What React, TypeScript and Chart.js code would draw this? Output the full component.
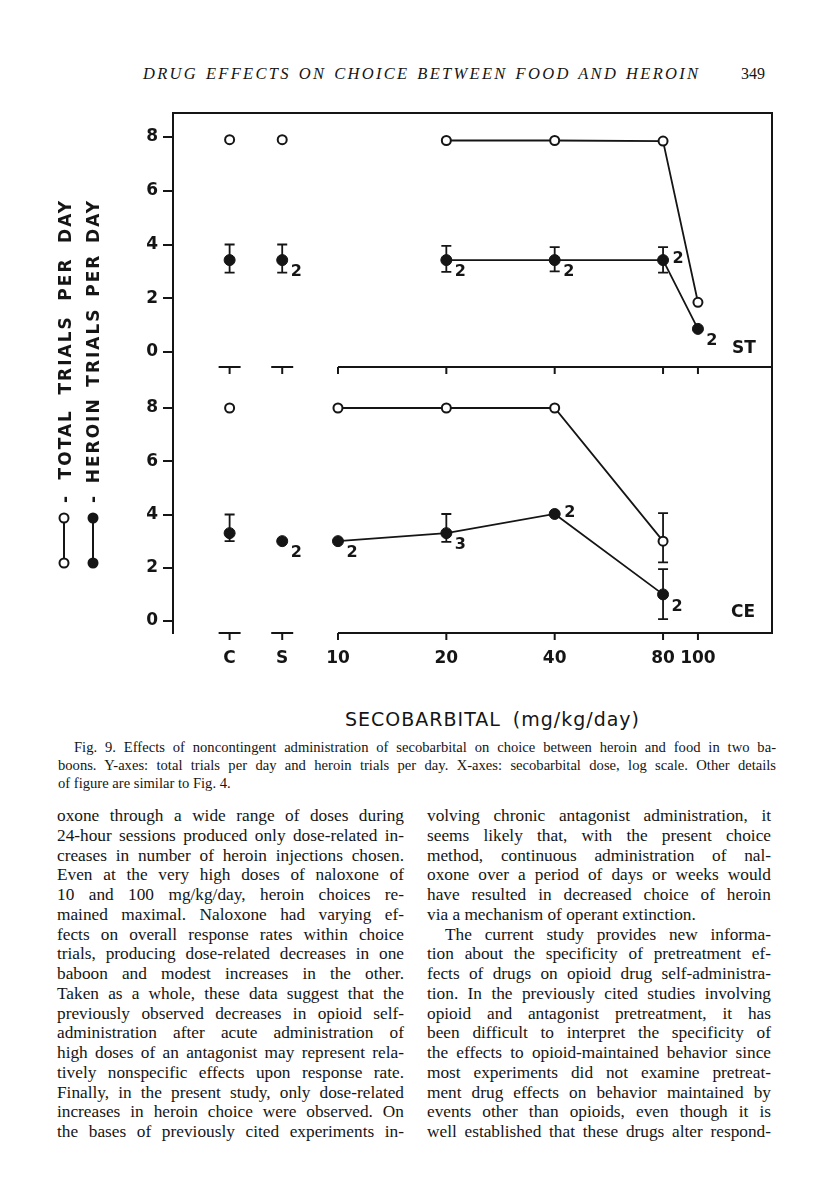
import React, { useEffect, useRef } from 'react';
import { Chart, registerables } from 'chart.js';

Chart.register(...registerables);

// ---------- data ----------
const xTickValues = [5, 7, 10, 20, 40, 80, 100];
const xTickLabels = ['C', 'S', '10', '20', '40', '80', '100'];
const controlX = [5, 7]; // C, S
const doses = [10, 20, 40, 80, 100];
const yTickValues = [0, 2, 4, 6, 8];

// ST panel (top)
const stTotalControl = [7.9, 7.9];
const stHeroinControl = [3.42, 3.42];
const stHeroinControlHi = [4.0, 4.0];
const stHeroinControlLo = [2.95, 2.95];
const stHeroinControlN = ['', '2'];
const stTotal = [null, 7.87, 7.87, 7.85, 1.85];
const stHeroin = [null, 3.42, 3.42, 3.42, 0.86];
const stHeroinHi = [null, 3.95, 3.9, 3.9, null];
const stHeroinLo = [null, 2.98, 3.0, 2.95, null];
const stHeroinN = ['', '2', '2', '2', '2'];
const stHeroinNPlace = ['below', 'below', 'below', 'side', 'below'];

// CE panel (bottom)
const ceTotalControl = [8.0, null];
const ceHeroinControl = [3.3, 3.0];
const ceHeroinControlHi = [4.0, null];
const ceHeroinControlLo = [3.0, null];
const ceHeroinControlN = ['', '2'];
const ceTotal = [8.0, 8.0, 8.0, 3.0, null];
const ceTotalHi = [null, null, null, 4.05, null];
const ceTotalLo = [null, null, null, 2.2, null];
const ceHeroin = [3.0, 3.3, 4.02, 1.0, null];
const ceHeroinHi = [null, 4.02, null, 1.95, null];
const ceHeroinLo = [null, 2.97, null, 0.07, null];
const ceHeroinN = ['2', '3', '2', '2', ''];
const ceHeroinNPlace = ['below', 'below', 'side', 'below', 'below'];

const captionLines = [
  'Fig. 9. Effects of noncontingent administration of secobarbital on choice between heroin and food in two ba-',
  'boons. Y-axes: total trials per day and heroin trials per day. X-axes: secobarbital dose, log scale. Other details',
  'of figure are similar to Fig. 4.',
];

const leftColumn = [
  'oxone through a wide range of doses during',
  '24-hour sessions produced only dose-related in-',
  'creases in number of heroin injections chosen.',
  'Even at the very high doses of naloxone of',
  '10 and 100 mg/kg/day, heroin choices re-',
  'mained maximal. Naloxone had varying ef-',
  'fects on overall response rates within choice',
  'trials, producing dose-related decreases in one',
  'baboon and modest increases in the other.',
  'Taken as a whole, these data suggest that the',
  'previously observed decreases in opioid self-',
  'administration after acute administration of',
  'high doses of an antagonist may represent rela-',
  'tively nonspecific effects upon response rate.',
  'Finally, in the present study, only dose-related',
  'increases in heroin choice were observed. On',
  'the bases of previously cited experiments in-',
];

const rightColumn = [
  'volving chronic antagonist administration, it',
  'seems likely that, with the present choice',
  'method, continuous administration of nal-',
  'oxone over a period of days or weeks would',
  'have resulted in decreased choice of heroin',
  'via a mechanism of operant extinction.',
  'The current study provides new informa-',
  'tion about the specificity of pretreatment ef-',
  'fects of drugs on opioid drug self-administra-',
  'tion. In the previously cited studies involving',
  'opioid and antagonist pretreatment, it has',
  'been difficult to interpret the specificity of',
  'the effects to opioid-maintained behavior since',
  'most experiments did not examine pretreat-',
  'ment drug effects on behavior maintained by',
  'events other than opioids, even though it is',
  'well established that these drugs alter respond-',
];
const rightParagraphEnds = [5]; // line index that ends a paragraph
const rightParagraphStarts = [6];

// ---------- styles ----------
const INK = '#151515';
const SANS = '"DejaVu Sans", "Liberation Sans", sans-serif';
const SERIF = '"Liberation Serif", "Times New Roman", serif';
const PLACE: Record<string, { dx: number; dy: number }> = {
  below: { dx: 14, dy: 12 },
  side: { dx: 15, dy: -1 },
};

const pts = (xs: number[], ys: (number | null)[]) => xs.map((x, i) => ({ x, y: ys[i] }));

const openPt = {
  pointRadius: 4.5,
  pointBorderWidth: 2,
  pointBackgroundColor: '#fff',
  pointBorderColor: INK,
};
const filledPt = {
  pointRadius: 5.5,
  pointBorderWidth: 1,
  pointBackgroundColor: INK,
  pointBorderColor: INK,
};
const lineStyle = { borderColor: INK, borderWidth: 1.8, tension: 0, fill: false };

const decorPlugin = {
  id: 'figureDecor',
  beforeDatasetsDraw(chart: any) {
    const ctx = chart.ctx;
    ctx.save();
    ctx.strokeStyle = INK;
    ctx.lineWidth = 1.8;
    chart.data.datasets.forEach((ds: any, i: number) => {
      if (!ds.errHi) return;
      const meta = chart.getDatasetMeta(i);
      const sc = chart.scales[ds.yAxisID];
      ds.errHi.forEach((hi: number | null, j: number) => {
        const lo = ds.errLo[j];
        if (hi == null || lo == null) return;
        const el = meta.data[j];
        if (!el) return;
        const x = el.x;
        const yh = sc.getPixelForValue(hi);
        const yl = sc.getPixelForValue(lo);
        ctx.beginPath();
        ctx.moveTo(x, yh);
        ctx.lineTo(x, yl);
        ctx.moveTo(x - 5, yh);
        ctx.lineTo(x + 5, yh);
        ctx.moveTo(x - 5, yl);
        ctx.lineTo(x + 5, yl);
        ctx.stroke();
      });
    });
    ctx.restore();
  },
  afterDatasetsDraw(chart: any) {
    const ctx = chart.ctx;
    const { left, right, top, bottom } = chart.chartArea;
    const xs = chart.scales.x;
    const yt = chart.scales.yTop;
    const yb = chart.scales.yBot;
    ctx.save();
    ctx.strokeStyle = INK;
    ctx.lineWidth = 2;
    ctx.lineCap = 'square';
    const line = (x1: number, y1: number, x2: number, y2: number) => {
      ctx.beginPath();
      ctx.moveTo(x1, y1);
      ctx.lineTo(x2, y2);
      ctx.stroke();
    };
    line(left, top, right, top);
    line(right, top, right, bottom);
    ctx.lineCap = 'butt';
    for (const yPix of [yt.bottom, yb.bottom]) {
      const x10 = xs.getPixelForValue(doses[0]);
      line(x10, yPix, right, yPix);
      for (const d of doses) {
        const px = xs.getPixelForValue(d);
        line(px, yPix, px, yPix + 7);
      }
      for (const c of controlX) {
        const px = xs.getPixelForValue(c);
        line(px - 11, yPix, px + 11, yPix);
        line(px, yPix, px, yPix + 7);
      }
    }
    // n labels
    ctx.fillStyle = INK;
    ctx.font = `bold 16px ${SANS}`;
    ctx.textAlign = 'center';
    ctx.textBaseline = 'middle';
    chart.data.datasets.forEach((ds: any, i: number) => {
      if (!ds.nLabels) return;
      const meta = chart.getDatasetMeta(i);
      ds.nLabels.forEach((t: string, j: number) => {
        if (!t) return;
        const el = meta.data[j];
        if (!el || el.skip) return;
        const p = PLACE[(ds.nPlace && ds.nPlace[j]) || 'below'];
        ctx.fillText(t, el.x + p.dx, el.y + p.dy);
      });
    });
    // panel labels
    ctx.font = `bold 17px ${SANS}`;
    ctx.fillText('ST', right - 28, yt.bottom - 18);
    ctx.fillText('CE', right - 29, yb.bottom - 20);
    // legend symbols
    const lx1 = left - 109;
    const lx2 = left - 80;
    const ly1 = bottom - 115;
    const ly2 = bottom - 70;
    ctx.lineWidth = 2;
    line(lx1, ly1, lx1, ly2);
    line(lx2, ly1, lx2, ly2);
    for (const y of [ly1, ly2]) {
      ctx.beginPath();
      ctx.arc(lx1, y, 4.5, 0, Math.PI * 2);
      ctx.fillStyle = '#fff';
      ctx.fill();
      ctx.stroke();
      ctx.beginPath();
      ctx.arc(lx2, y, 5.5, 0, Math.PI * 2);
      ctx.fillStyle = INK;
      ctx.fill();
    }
    ctx.restore();
  },
};

function yAxis(min: number, max: number, stackWeight: number, weight: number) {
  return {
    type: 'linear',
    position: 'left',
    stack: 'panels',
    stackWeight,
    weight,
    min,
    max,
    bounds: 'data',
    afterBuildTicks: (s: any) => {
      s.ticks = yTickValues.map((v) => ({ value: v }));
    },
    afterFit: (s: any) => {
      s.width = 40;
    },
    ticks: { padding: 5, color: INK, font: { family: SANS, size: 17, weight: 'bold' } },
    grid: {
      drawOnChartArea: false,
      drawTicks: true,
      tickLength: 10,
      tickWidth: 2,
      tickColor: INK,
      color: INK,
      lineWidth: 2,
    },
    border: { display: true, color: INK, width: 2 },
  };
}

function FigureChart() {
  const ref = useRef<HTMLCanvasElement | null>(null);
  useEffect(() => {
    if (!ref.current) return;
    const chart = new Chart(ref.current, {
      type: 'line',
      data: {
        datasets: [
          { label: 'ST total', data: pts(doses, stTotal), yAxisID: 'yTop', ...lineStyle, ...openPt } as any,
          {
            label: 'ST heroin',
            data: pts(doses, stHeroin),
            yAxisID: 'yTop',
            ...lineStyle,
            ...filledPt,
            errHi: stHeroinHi,
            errLo: stHeroinLo,
            nLabels: stHeroinN,
            nPlace: stHeroinNPlace,
          } as any,
          { label: 'ST total control', data: pts(controlX, stTotalControl), yAxisID: 'yTop', showLine: false, ...openPt } as any,
          {
            label: 'ST heroin control',
            data: pts(controlX, stHeroinControl),
            yAxisID: 'yTop',
            showLine: false,
            ...filledPt,
            errHi: stHeroinControlHi,
            errLo: stHeroinControlLo,
            nLabels: stHeroinControlN,
          } as any,
          {
            label: 'CE total',
            data: pts(doses, ceTotal),
            yAxisID: 'yBot',
            ...lineStyle,
            ...openPt,
            errHi: ceTotalHi,
            errLo: ceTotalLo,
          } as any,
          {
            label: 'CE heroin',
            data: pts(doses, ceHeroin),
            yAxisID: 'yBot',
            ...lineStyle,
            ...filledPt,
            errHi: ceHeroinHi,
            errLo: ceHeroinLo,
            nLabels: ceHeroinN,
            nPlace: ceHeroinNPlace,
          } as any,
          { label: 'CE total control', data: pts(controlX, ceTotalControl), yAxisID: 'yBot', showLine: false, ...openPt } as any,
          {
            label: 'CE heroin control',
            data: pts(controlX, ceHeroinControl),
            yAxisID: 'yBot',
            showLine: false,
            ...filledPt,
            errHi: ceHeroinControlHi,
            errLo: ceHeroinControlLo,
            nLabels: ceHeroinControlN,
          } as any,
        ],
      },
      options: {
        responsive: false,
        animation: false,
        devicePixelRatio: 1,
        layout: { autoPadding: false, padding: { left: 133, right: 44, top: 18, bottom: 17 } },
        plugins: { legend: { display: false }, tooltip: { enabled: false }, title: { display: false } },
        scales: {
          x: {
            type: 'logarithmic',
            position: 'bottom',
            min: 3.481,
            max: 160.6,
            bounds: 'data',
            afterBuildTicks: (s: any) => {
              s.ticks = xTickValues.map((v) => ({ value: v }));
            },
            afterFit: (s: any) => {
              s.height = 40;
            },
            ticks: {
              autoSkip: false,
              maxRotation: 0,
              minRotation: 0,
              padding: 15,
              color: INK,
              font: { family: SANS, size: 17, weight: 'bold' },
              callback: (v: any) => {
                const i = xTickValues.indexOf(Number(v));
                return i >= 0 ? xTickLabels[i] : '';
              },
            },
            grid: { display: false, drawTicks: false },
            border: { display: false },
          },
          yTop: yAxis(-0.558, 8.893, 254, 1),
          yBot: yAxis(-0.45, 9.54, 266, 0),
        } as any,
      },
      plugins: [decorPlugin],
    } as any);
    return () => chart.destroy();
  }, []);
  return (
    <canvas
      ref={ref}
      width={816}
      height={595}
      style={{ position: 'absolute', left: 0, top: 95, width: 816, height: 595 }}
    />
  );
}

const justLine: React.CSSProperties = {
  whiteSpace: 'nowrap',
  textAlign: 'justify',
  textAlignLast: 'justify' as any,
};

export default function App() {
  return (
    <div
      style={{
        position: 'absolute',
        left: 0,
        top: 0,
        width: 816,
        height: 1200,
        background: '#fff',
        color: INK,
        fontFamily: SERIF,
        overflow: 'hidden',
      }}
    >
      <div
        style={{
          position: 'absolute',
          left: 143,
          top: 64,
          fontStyle: 'italic',
          fontSize: 16.5,
          lineHeight: '20px',
          letterSpacing: 2.3,
          wordSpacing: 1.5,
          whiteSpace: 'nowrap',
        }}
      >
        DRUG EFFECTS ON CHOICE BETWEEN FOOD AND HEROIN
      </div>
      <div style={{ position: 'absolute', left: 741, top: 64, fontSize: 16, lineHeight: '20px' }}>349</div>

      <FigureChart />

      {/* rotated legend texts */}
      {['- TOTAL TRIALS PER DAY', '- HEROIN TRIALS PER DAY'].map((t, i) => (
        <div
          key={t}
          style={{
            position: 'absolute',
            left: (i === 0 ? 65 : 93) - 152,
            top: 351 - 12,
            width: 304,
            height: 24,
            lineHeight: '24px',
            fontFamily: SANS,
            fontWeight: 'bold',
            fontSize: 17,
            letterSpacing: 2,
            transform: 'rotate(-90deg)',
            transformOrigin: '50% 50%',
            ...justLine,
          }}
        >
          {t}
        </div>
      ))}

      <div
        style={{
          position: 'absolute',
          left: 345,
          top: 707,
          width: 295,
          fontFamily: SANS,
          fontSize: 19,
          lineHeight: '24px',
          letterSpacing: 1,
          ...justLine,
        }}
      >
        SECOBARBITAL (mg/kg/day)
      </div>

      <div style={{ position: 'absolute', left: 58, top: 738, width: 718, fontSize: 14.6, lineHeight: '18px' }}>
        {captionLines.map((l, i) => (
          <div
            key={i}
            style={
              i < captionLines.length - 1
                ? { ...justLine, paddingLeft: i === 0 ? 16 : 0 }
                : { whiteSpace: 'nowrap' }
            }
          >
            {l}
          </div>
        ))}
      </div>

      <div style={{ position: 'absolute', left: 57, top: 806, width: 347, fontSize: 17.3, lineHeight: '19.75px' }}>
        {leftColumn.map((l, i) => (
          <div key={i} style={justLine}>
            {l}
          </div>
        ))}
      </div>
      <div style={{ position: 'absolute', left: 427, top: 806, width: 344, fontSize: 17.3, lineHeight: '19.75px' }}>
        {rightColumn.map((l, i) => (
          <div
            key={i}
            style={
              rightParagraphEnds.includes(i)
                ? { whiteSpace: 'nowrap' }
                : { ...justLine, paddingLeft: rightParagraphStarts.includes(i) ? 18 : 0 }
            }
          >
            {l}
          </div>
        ))}
      </div>
    </div>
  );
}
